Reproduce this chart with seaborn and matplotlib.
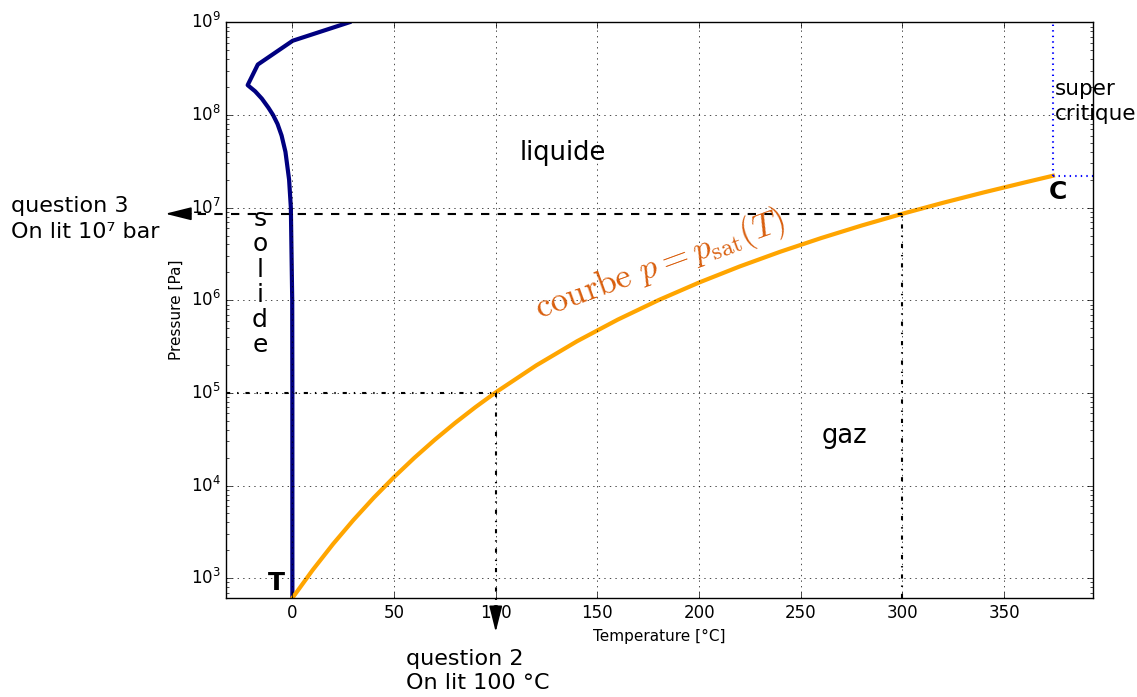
import matplotlib
matplotlib.use('Agg')
import matplotlib.pyplot as plt
import pandas as pd
import seaborn as sns

# courbe de saturation liquide/vapeur (T en °C, p en Pa)
T_sat = [0.01, 10, 20, 30, 40, 50, 60, 70, 80, 90, 100, 120, 140, 160, 180,
         200, 220, 240, 260, 280, 300, 320, 340, 360, 373.946]
p_sat = [611.657, 1228, 2339, 4246, 7384, 12352, 19946, 31201, 47414, 70182,
         101418, 198670, 361540, 618230, 1002800, 1554900, 2319600, 3346900,
         4692300, 6416600, 8587900, 11284000, 14601000, 18666000, 22064000]

# courbe de fusion (solide/liquide)
T_fus = [0.01, 0.0, -0.07, -0.74, -1.6, -3.4, -5.3, -7.3, -9.5, -11.8, -15.0,
         -18.3, -21.985, -16.986, 0.16, 28.0]
p_fus = [611.657, 1e5, 1e6, 1e7, 2e7, 4e7, 6e7, 8e7, 1e8, 1.2e8, 1.5e8,
         1.8e8, 2.099e8, 3.501e8, 6.324e8, 1e9]

T_c, p_c = 373.946, 22064000
T_q2, p_q2 = 100, 1e5
T_q3, p_q3 = 300, 8587900

df_sat = pd.DataFrame({'T': T_sat, 'p': p_sat})
df_fus = pd.DataFrame({'T': T_fus, 'p': p_fus})

plt.style.use('classic')
plt.rcParams['mathtext.fontset'] = 'cm'

fig = plt.figure(figsize=(11.37, 6.97), dpi=100)
ax = fig.add_axes([0.199, 0.142, 0.762, 0.826])

sns.lineplot(data=df_fus, x='T', y='p', sort=False, estimator=None, color='navy', lw=3, ax=ax)
sns.lineplot(data=df_sat, x='T', y='p', sort=False, estimator=None, color='orange', lw=3, ax=ax)

ax.set_yscale('log')
ax.set_xlim(-32.5, 393.5)
ax.set_ylim(611.657, 1e9)
ax.grid(True)

# point critique
ax.plot([T_c, T_c], [p_c, 1e9], ':', color='blue', lw=1.5)
ax.plot([T_c, 393.5], [p_c, p_c], ':', color='blue', lw=1.5)

head = dict(arrowstyle='-|>,head_length=0.8,head_width=0.2', mutation_scale=20,
            color='k', lw=1.2, shrinkA=0, shrinkB=0)

# question 2
ax.plot([-32.5, T_q2], [p_q2, p_q2], '-.', color='k', lw=1.5)
ax.plot([T_q2, T_q2], [p_q2, 330], '-.', color='k', lw=1.5, clip_on=False)
ax.annotate('', xy=(T_q2, 263), xytext=(T_q2, 340), annotation_clip=False, arrowprops=head)
ax.text(56, 99, 'question 2\nOn lit 100 °C', fontsize=16, ha='left', va='center',
        linespacing=1.27, clip_on=False)

# question 3
ax.plot([-55, T_q3], [p_q3, p_q3], '--', color='k', lw=1.5, clip_on=False)
ax.plot([T_q3, T_q3], [611.657, p_q3], '-.', color='k', lw=1.5)
ax.annotate('', xy=(-62.5, p_q3), xytext=(-50, p_q3), annotation_clip=False, arrowprops=head)
ax.text(-138.5, 7.5e6, 'question 3\nOn lit 10⁷ bar', fontsize=16, ha='left', va='center',
        linespacing=1.41, clip_on=False)

# textes
ax.text(133, 3.9e7, 'liquide', fontsize=18.5, ha='center', va='center')
ax.text(271.5, 3.4e4, 'gaz', fontsize=18.5, ha='center', va='center')
ax.text(-16, 1.57e6, 's\no\nl\ni\nd\ne', fontsize=18, ha='center', va='center', linespacing=1.06)
ax.text(-8, 890, 'T', fontsize=18, fontweight='bold', ha='center', va='center')
ax.text(376.5, 1.47e7, 'C', fontsize=18, fontweight='bold', ha='center', va='center')
ax.text(375, 1.4e8, 'super\ncritique', fontsize=15.5, ha='left', va='center', linespacing=1.3)
ax.text(181, 2.4e6, r'$\mathrm{courbe}\ p = p_{\mathrm{sat}}(T)$', fontsize=25,
        color='#d95f0e', rotation=20, ha='center', va='center')

ax.set_xlabel('Temperature [°C]', fontsize=11)
ax.set_ylabel('Pressure [Pa]', fontsize=11)

fig.savefig('out.png', dpi=100)
